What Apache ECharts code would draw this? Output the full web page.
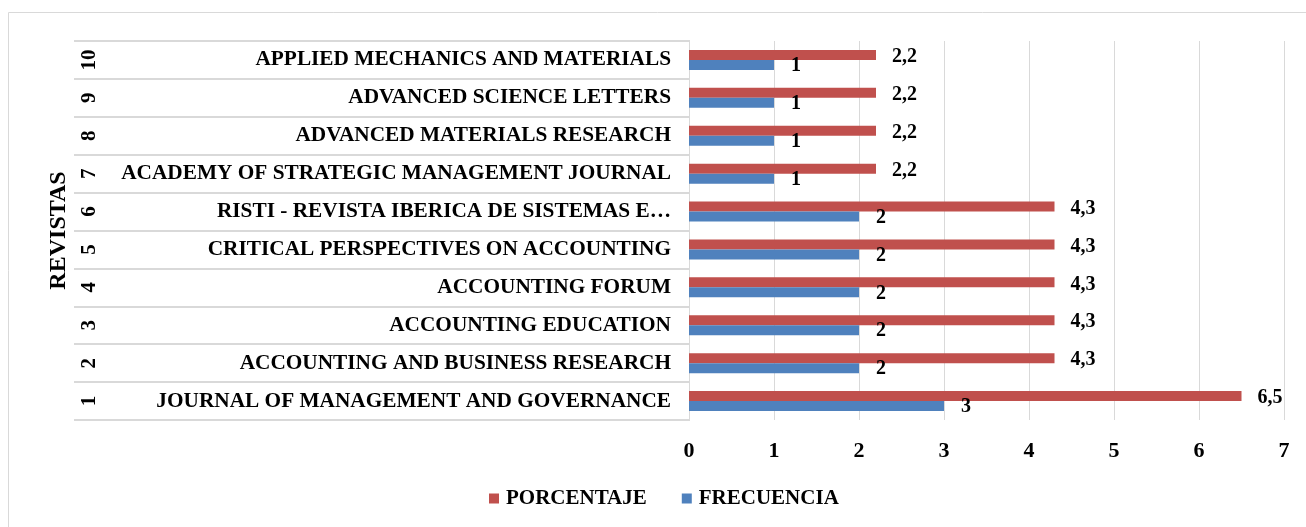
<!DOCTYPE html>
<html>
<head>
<meta charset="utf-8">
<script src="https://cdn.jsdelivr.net/npm/echarts@6/dist/echarts.min.js"></script>
<style>
	html, body { margin: 0; padding: 0; background: #fff; }
	#chart { width: 1306px; height: 527px; }
</style>
</head>
<body>
<div id="chart"></div>
<script>
// data, bottom row first
const numeros = ["1", "2", "3", "4", "5", "6", "7", "8", "9", "10"];
const revistas = [
	"JOURNAL OF MANAGEMENT AND GOVERNANCE",
	"ACCOUNTING AND BUSINESS RESEARCH",
	"ACCOUNTING EDUCATION",
	"ACCOUNTING FORUM",
	"CRITICAL PERSPECTIVES ON ACCOUNTING",
	"RISTI - REVISTA IBERICA DE SISTEMAS E…",
	"ACADEMY OF STRATEGIC MANAGEMENT JOURNAL",
	"ADVANCED MATERIALS RESEARCH",
	"ADVANCED SCIENCE LETTERS",
	"APPLIED MECHANICS AND MATERIALS"
];
const porcentaje = [6.5, 4.3, 4.3, 4.3, 4.3, 4.3, 2.2, 2.2, 2.2, 2.2];
const frecuencia = [3, 2, 2, 2, 2, 2, 1, 1, 1, 1];
const ticks = [0, 1, 2, 3, 4, 5, 6, 7];

const serif = "Liberation Serif";
const gris = "#d9d9d9";

let chart = echarts.init(document.getElementById("chart"));

let fmt = function(p) {
	return String(p.value).replace(".", ",");
};

let option = {
	animation: false,
	textStyle: { fontFamily: serif },
	graphic: [
		{
			type: "rect",
			shape: { x: 8.5, y: 12.5, width: 1400, height: 600 },
			style: { fill: "none", stroke: gris, lineWidth: 1 }
		}
	],
	legend: {
		data: ["PORCENTAJE", "FRECUENCIA"],
		left: 489,
		top: 488,
		padding: 0,
		icon: "rect",
		itemWidth: 10,
		itemHeight: 10,
		itemGap: 35,
		textStyle: { fontFamily: serif, fontSize: 21, fontWeight: "bold", color: "#000", padding: [0, 0, 0, 2] }
	},
	grid: [
		{ left: 689, top: 41, width: 595, height: 379 },
		{ left: 74, top: 41, width: 616, height: 379 }
	],
	xAxis: [
		{
			gridIndex: 0,
			type: "value",
			min: ticks[0],
			max: ticks[ticks.length - 1],
			interval: 1,
			axisLine: { show: false },
			axisTick: { show: false },
			splitLine: { lineStyle: { color: gris, width: 1 } },
			axisLabel: { margin: 20, fontFamily: serif, fontSize: 22, fontWeight: "bold", color: "#000" }
		},
		{ gridIndex: 1, type: "value", show: false }
	],
	yAxis: [
		{
			gridIndex: 0,
			type: "category",
			data: revistas,
			axisLine: { show: false },
			axisTick: { show: false },
			axisLabel: { margin: 18, fontFamily: serif, fontSize: 21.3, fontWeight: "bold", color: "#000" }
		},
		{
			gridIndex: 1,
			type: "category",
			data: numeros,
			name: "REVISTAS",
			nameLocation: "middle",
			nameRotate: 90,
			nameGap: 3,
			nameTextStyle: { fontFamily: serif, fontSize: 24, fontWeight: "bold", color: "#000" },
			axisLine: { show: false },
			axisTick: { show: false },
			splitLine: { show: true, lineStyle: { color: gris, width: 2 } },
			axisLabel: { inside: true, rotate: 90, margin: 5, fontFamily: serif, fontSize: 21, fontWeight: "bold", color: "#000" }
		}
	],
	series: [
		{
			name: "PORCENTAJE",
			type: "bar",
			xAxisIndex: 0,
			yAxisIndex: 0,
			data: porcentaje,
			barWidth: 10,
			barGap: "0%",
			itemStyle: { color: "#c0504d" },
			label: {
				show: true,
				position: "right",
				distance: 16,
				offset: [0, 2],
				formatter: fmt,
				fontFamily: serif,
				fontSize: 20,
				fontWeight: "bold",
				color: "#000"
			}
		},
		{
			name: "FRECUENCIA",
			type: "bar",
			xAxisIndex: 0,
			yAxisIndex: 0,
			data: frecuencia,
			barWidth: 10,
			barGap: "0%",
			itemStyle: { color: "#4f81bd" },
			label: {
				show: true,
				position: "right",
				distance: 17,
				offset: [0, 1],
				formatter: fmt,
				fontFamily: serif,
				fontSize: 20,
				fontWeight: "bold",
				color: "#000"
			}
		}
	]
};

chart.setOption(option);
</script>
</body>
</html>
